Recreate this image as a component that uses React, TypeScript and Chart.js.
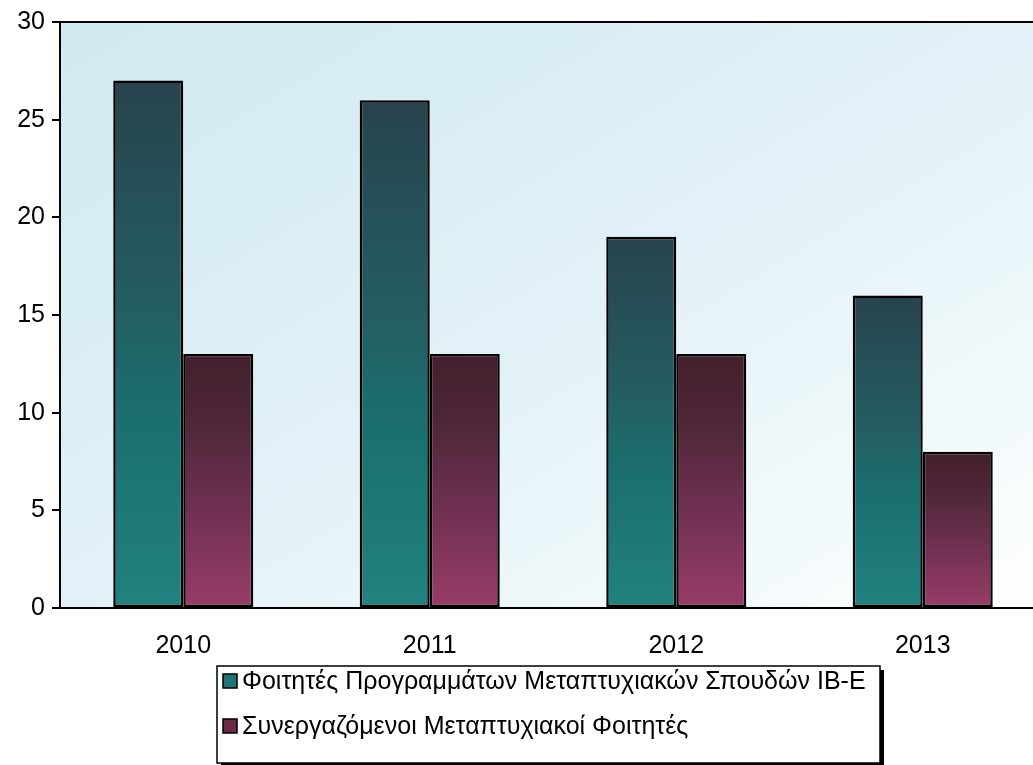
import React, { useEffect, useRef } from "react";
import { Chart, registerables } from "chart.js";

Chart.register(...registerables);

const categories = ["2010", "2011", "2012", "2013"];
const seriesStudents = [27, 26, 19, 16];
const seriesCollaborating = [13, 13, 13, 8];
const seriesNames = [
  "Φοιτητές Προγραμμάτων Μεταπτυχιακών Σπουδών ΙΒ-Ε",
  "Συνεργαζόμενοι Μεταπτυχιακοί Φοιτητές",
];
const yMin = 0;
const yMax = 30;
const yStep = 5;

const tealStops: [number, string][] = [
  [0, "#28434d"],
  [0.45, "#235f63"],
  [0.6, "#1b6c6e"],
  [1, "#20827f"],
];
const maroonStops: [number, string][] = [
  [0, "#43202e"],
  [0.25, "#4d2637"],
  [0.6, "#6e3050"],
  [1, "#993c68"],
];
const legendSwatches = ["#1e7475", "#6a2b48"];

function barGradient(stops: [number, string][]) {
  return (ctx: any) => {
    const chart = ctx.chart;
    const ys = chart.scales && chart.scales.y;
    if (!chart.chartArea || !ys || ctx.type !== "data") return stops[stops.length - 1][1];
    const top = ys.getPixelForValue(ctx.raw);
    const bottom = ys.getPixelForValue(0);
    if (!isFinite(top) || !isFinite(bottom) || top === bottom) return stops[stops.length - 1][1];
    const g = chart.ctx.createLinearGradient(0, top, 0, bottom);
    stops.forEach(([o, c]) => g.addColorStop(o, c));
    return g;
  };
}

const FONT = "'Liberation Sans', Arial, sans-serif";

const plotBackground = {
  id: "plotBackground",
  beforeDraw(chart: any) {
    const { ctx, chartArea } = chart;
    if (!chartArea) return;
    const { left, top, right, bottom } = chartArea;
    const w = right - left;
    const h = bottom - top;
    ctx.save();
    ctx.translate(left, top);
    ctx.scale(w, h);
    const g = ctx.createLinearGradient(0, 0, 1, 1);
    g.addColorStop(0, "#d0e9f1");
    g.addColorStop(0.5, "#e2f1f7");
    g.addColorStop(0.8, "#f1f9fb");
    g.addColorStop(1, "#ffffff");
    ctx.fillStyle = g;
    ctx.fillRect(0, 0, 1, 1);
    ctx.restore();
  },
  afterDraw(chart: any) {
    const { ctx, chartArea } = chart;
    if (!chartArea) return;
    ctx.save();
    ctx.strokeStyle = "#000";
    ctx.lineWidth = 2;
    ctx.beginPath();
    ctx.moveTo(chartArea.left, chartArea.top);
    ctx.lineTo(chartArea.right + 10, chartArea.top);
    ctx.stroke();
    ctx.restore();
  },
};

const boxedLegend = {
  id: "boxedLegend",
  afterDraw(chart: any) {
    const ctx = chart.ctx;
    const x = 217, y = 666, w = 663, h = 97;
    ctx.save();
    ctx.fillStyle = "#000";
    ctx.fillRect(x + 4, y + 4, w, h);
    ctx.fillStyle = "#fff";
    ctx.fillRect(x, y, w, h);
    ctx.strokeStyle = "#000";
    ctx.lineWidth = 1.5;
    ctx.strokeRect(x, y, w, h);
    ctx.font = `25px ${FONT}`;
    ctx.textBaseline = "middle";
    seriesNames.forEach((name, i) => {
      const cy = 681 + i * 45;
      ctx.fillStyle = legendSwatches[i];
      ctx.fillRect(223, cy - 7, 14, 14);
      ctx.strokeStyle = "#000";
      ctx.lineWidth = 1.5;
      ctx.strokeRect(223, cy - 7, 14, 14);
      ctx.fillStyle = "#000";
      ctx.fillText(name, 242, cy + 1);
    });
    ctx.restore();
  },
};

export default function App() {
  const canvasRef = useRef<HTMLCanvasElement | null>(null);

  useEffect(() => {
    const canvas = canvasRef.current;
    if (!canvas) return;
    const chart = new Chart(canvas, {
      type: "bar",
      data: {
        labels: categories,
        datasets: [
          {
            label: seriesNames[0],
            data: seriesStudents,
            backgroundColor: barGradient(tealStops),
            borderColor: "#000",
            borderWidth: 2.5,
            borderSkipped: false,
          },
          {
            label: seriesNames[1],
            data: seriesCollaborating,
            backgroundColor: barGradient(maroonStops),
            borderColor: "#000",
            borderWidth: 2.5,
            borderSkipped: false,
          },
        ],
      },
      options: {
        responsive: false,
        animation: false,
        devicePixelRatio: 1,
        layout: { padding: { top: 22, left: 0, right: 4, bottom: 0 } },
        plugins: {
          legend: { display: false },
          tooltip: { enabled: false },
          title: { display: false },
        },
        datasets: {
          bar: { barPercentage: 1, categoryPercentage: 0.568 },
        },
        scales: {
          x: {
            grid: { display: false, drawTicks: false },
            border: { display: true, color: "#000", width: 2 },
            ticks: { color: "#000", font: { family: FONT, size: 25 }, padding: 23 },
            afterFit: (s: any) => {
              s.height = 157;
            },
          },
          y: {
            min: yMin,
            max: yMax,
            ticks: {
              stepSize: yStep,
              color: "#000",
              font: { family: FONT, size: 25 },
              padding: 7,
            },
            grid: {
              display: true,
              drawOnChartArea: false,
              drawTicks: true,
              tickLength: 8,
              color: "#000",
              lineWidth: 2,
            },
            border: { display: true, color: "#000", width: 2 },
            afterFit: (s: any) => {
              s.width = 60;
            },
          },
        },
      } as any,
      plugins: [plotBackground, boxedLegend],
    });
    return () => chart.destroy();
  }, []);

  return (
    <div
      style={{
        position: "absolute",
        left: 0,
        top: 0,
        width: 1033,
        height: 765,
        overflow: "hidden",
        background: "#fff",
      }}
    >
      <canvas ref={canvasRef} width={1050} height={765} style={{ display: "block" }} />
    </div>
  );
}
